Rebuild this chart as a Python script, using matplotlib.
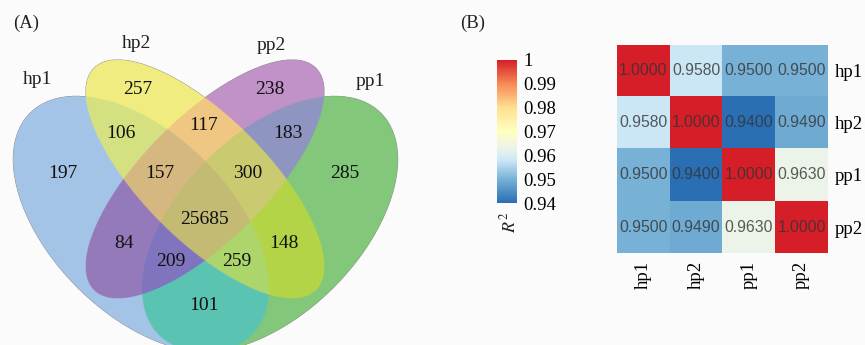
import numpy as np
import matplotlib
matplotlib.use('Agg')
import matplotlib.pyplot as plt
from matplotlib.colors import LinearSegmentedColormap, to_rgba

plt.rcParams['font.family'] = ['Liberation Serif', 'DejaVu Serif']
plt.rcParams['mathtext.fontset'] = 'stix'

# ---------------- data ----------------
set_names = ['hp1', 'hp2', 'pp2', 'pp1']
# membership flags in the order hp1, hp2, pp2, pp1
region_sets = ['1000', '0100', '0010', '0001',
               '1100', '0110', '0011', '1001', '1010', '0101',
               '1110', '0111', '1011', '1101', '1111']
region_counts = [197, 257, 238, 285,
                 106, 117, 183, 101, 84, 148,
                 157, 300, 209, 259, 25685]

samples = ['hp1', 'hp2', 'pp1', 'pp2']
r2 = [[1.0000, 0.9580, 0.9500, 0.9500],
      [0.9580, 1.0000, 0.9400, 0.9490],
      [0.9500, 0.9400, 1.0000, 0.9630],
      [0.9500, 0.9490, 0.9630, 1.0000]]
cbar_ticks = [0.94, 0.95, 0.96, 0.97, 0.98, 0.99, 1.0]
cbar_labels = ['0.94', '0.95', '0.96', '0.97', '0.98', '0.99', '1']

# ---------------- styles / layout ----------------
region_colors = {'1000': '#a4c5e6', '0100': '#f1ec80', '0010': '#c092c8', '0001': '#82c87a',
                 '1100': '#d6e080', '0110': '#f0c882', '0011': '#8e96c0', '1001': '#5cc4b2',
                 '1010': '#947aba', '0101': '#b4d448', '1110': '#d6b880', '0111': '#caca70',
                 '1011': '#8074be', '1101': '#acd66c', '1111': '#c4ba74'}
# label positions in pixel coords of the left panel (y downwards)
label_pos = {'1000': (63, 173), '0100': (138, 89), '0010': (270, 89), '0001': (345, 173),
             '1100': (121, 134), '0110': (204, 125), '0011': (288, 134), '1001': (204, 305),
             '1010': (124, 243), '0101': (284, 243), '1110': (160, 173), '0111': (248, 173),
             '1011': (171, 261), '1101': (237, 261), '1111': (204, 220)}
# ellipse: cx, cy, a, b, angle (pixel coords, y down)
ellipses = {'hp1': (141, 224, 157, 90, 45),
            'hp2': (205, 179, 157, 62, 45),
            'pp2': (205, 179, 157, 62, -45),
            'pp1': (270, 224, 157, 90, -45)}
name_pos = {'hp1': (38, 80), 'hp2': (137, 43), 'pp2': (271, 45), 'pp1': (370, 81)}

W, H = 440, 345
fig = plt.figure(figsize=(8.65, 3.45), dpi=100)
fig.patch.set_facecolor('#fbfbfb')

# ---------------- (A) Venn ----------------
ax = fig.add_axes([0, 0, W / 865, 1])
s = 4
X, Y = np.meshgrid((np.arange(W * s) + 0.5) / s, (np.arange(H * s) + 0.5) / s)
code = np.zeros(X.shape, dtype=int)
for i, nm in enumerate(set_names):
    cx, cy, a, b, ang = ellipses[nm]
    t = np.deg2rad(ang)
    dx, dy = X - cx, Y - cy
    u = dx * np.cos(t) + dy * np.sin(t)
    v = -dx * np.sin(t) + dy * np.cos(t)
    code += (((u / a) ** 2 + (v / b) ** 2) <= 1).astype(int) << i

rgba = np.zeros(X.shape + (4,))
for key in region_sets:
    c = sum(int(ch) << i for i, ch in enumerate(key))
    rgba[code == c] = to_rgba(region_colors[key])
ax.imshow(rgba, extent=(0, W, H, 0), interpolation='antialiased')
ax.set_xlim(0, W)
ax.set_ylim(H, 0)
ax.axis('off')

for key, n in zip(region_sets, region_counts):
    x, y = label_pos[key]
    ax.text(x, y, str(n), ha='center', va='center', fontsize=14, color='#111111')
for nm in set_names:
    x, y = name_pos[nm]
    ax.text(x, y, nm, ha='center', va='center', fontsize=14, color='#222222')
ax.text(13, 23, '(A)', ha='left', va='center', fontsize=13.5, color='#222222')

# ---------------- (B) heatmap ----------------
cmap = LinearSegmentedColormap.from_list('r2', [
    (0.0, '#2a6eb4'), (0.1667, '#78b2d7'), (0.30, '#cde8f6'), (0.383, '#ecf3e9'),
    (0.5, '#ffffbf'), (0.667, '#fee090'), (0.833, '#f88a58'), (1.0, '#d51e28')])

axh = fig.add_axes([617 / 865, 1 - 253 / 345, 211 / 865, 208 / 345])
im = axh.imshow(np.array(r2), cmap=cmap, vmin=0.94, vmax=1.0, aspect='auto')
for i in range(len(samples)):
    for j in range(len(samples)):
        axh.text(j, i, f'{r2[i][j]:.4f}', ha='center', va='center',
                 family=['Liberation Sans', 'DejaVu Sans'], fontsize=11.3,
                 color='#333333', alpha=0.8)
axh.yaxis.tick_right()
axh.set_yticks(range(len(samples)), samples, fontsize=13.5)
axh.set_xticks(range(len(samples)), samples, fontsize=13.5, rotation=90)
axh.tick_params(axis='y', length=0, pad=5)
axh.tick_params(axis='x', length=0, pad=6)
for sp in axh.spines.values():
    sp.set_visible(False)

cax = fig.add_axes([497 / 865, 1 - 203 / 345, 20 / 865, 143 / 345])
cb = fig.colorbar(im, cax=cax, ticks=cbar_ticks)
cb.ax.set_yticklabels(cbar_labels, fontsize=13.5)
cb.ax.tick_params(length=0, pad=4.5)
cb.outline.set_visible(False)

fig.text(509 / 865, 1 - 222 / 345, r'$R^2$', rotation=90, ha='center', va='center',
         fontsize=13, color='#222222')
fig.text(460 / 865, 1 - 23 / 345, '(B)', ha='left', va='center', fontsize=13.5,
         color='#222222')

fig.savefig('out.png', dpi=100, facecolor=fig.get_facecolor())
